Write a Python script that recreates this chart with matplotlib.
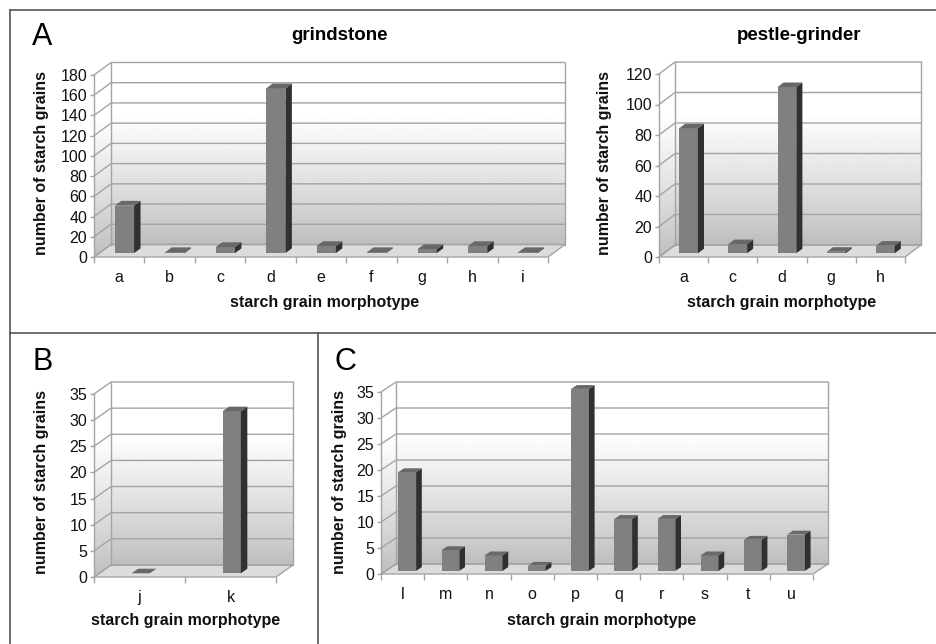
import numpy as np
import matplotlib
matplotlib.use('Agg')
import matplotlib.pyplot as plt
from matplotlib.patches import Polygon
from matplotlib.lines import Line2D

plt.rcParams['font.family'] = ['Liberation Sans', 'DejaVu Sans']

# data
grind_cats = ['a', 'b', 'c', 'd', 'e', 'f', 'g', 'h', 'i']
grind_vals = [47, 1, 6, 163, 7, 1, 4, 7, 1]
pestle_cats = ['a', 'c', 'd', 'g', 'h']
pestle_vals = [82, 6, 109, 1, 5]
b_cats = ['j', 'k']
b_vals = [0, 31]
c_cats = ['l', 'm', 'n', 'o', 'p', 'q', 'r', 's', 't', 'u']
c_vals = [19, 4, 3, 1, 35, 10, 10, 3, 6, 7]

W, H = 937, 644
fig = plt.figure(figsize=(W / 100, H / 100), dpi=100)
fig.patch.set_facecolor('white')

EDGE = '#a4a4a4'
FRONT = '#808080'
SIDE = '#303030'
TOP = '#686868'
FLOOR = '#dcdcdc'

# vertical gradient: grey at the bottom, white in the upper part
g = np.linspace(0, 1, 256)
grad = (0.74 + 0.26 * np.clip(g / 0.72, 0, 1) ** 0.85).reshape(-1, 1)


def panel(L, R, T, B, dx, dy, cats, vals, ymax, ystep, bw=0.38, dfront=0.31,
          ddepth=0.38, xs=0):
    n = len(cats)
    ax = fig.add_axes([L / W, 1 - B / H, (R - L) / W, (B - T) / H])
    x0, x1 = -0.5, n - 0.5
    ppx = (R - L) / n
    ox = dx / ppx
    oy = dy / ((B - T) / ymax)

    # back wall
    ax.imshow(grad, extent=(x0 + ox, x1 + ox, oy, ymax + oy), origin='lower',
              cmap='gray', vmin=0, vmax=1, aspect='auto', zorder=0,
              clip_on=False, interpolation='bilinear')
    # side wall
    side = Polygon([(x0, 0), (x0, ymax), (x0 + ox, ymax + oy), (x0 + ox, oy)],
                   closed=True, transform=ax.transData)
    im2 = ax.imshow(grad, extent=(x0, x0 + ox, 0, ymax + oy), origin='lower',
                    cmap='gray', vmin=0, vmax=1, aspect='auto', zorder=0,
                    interpolation='bilinear')
    im2.set_clip_path(side)
    im2.set_clip_box(None)
    # floor
    ax.add_patch(Polygon([(x0, 0), (x1, 0), (x1 + ox, oy), (x0 + ox, oy)], closed=True,
                         facecolor=FLOOR, edgecolor=EDGE, lw=1, zorder=1, clip_on=False))

    ticks = np.arange(0, ymax + 0.1, ystep)
    for t in ticks:
        ax.plot([x0, x0 + ox, x1 + ox], [t, t + oy, t + oy], color=EDGE, lw=1,
                zorder=2, clip_on=False)
    ax.plot([x0 + ox, x0 + ox], [oy, ymax + oy], color=EDGE, lw=1, zorder=2, clip_on=False)
    ax.plot([x1 + ox, x1 + ox], [oy, ymax + oy], color=EDGE, lw=1, zorder=2, clip_on=False)
    ax.plot([x0, x0], [0, ymax], color=EDGE, lw=1, zorder=2, clip_on=False)

    # bars
    pos = np.arange(n) + dfront * ox + xs / ppx
    base = dfront * oy
    ax.bar(pos, vals, width=bw, bottom=base, color=FRONT, zorder=3, clip_on=False)
    dox, doy = ddepth * ox, ddepth * oy
    for p, v in zip(pos, vals):
        xl, xr = p - bw / 2, p + bw / 2
        yt = base + v
        ax.add_patch(Polygon([(xr, base), (xr, yt), (xr + dox, yt + doy), (xr + dox, base + doy)],
                             closed=True, facecolor=SIDE, edgecolor='none', zorder=3, clip_on=False))
        ax.add_patch(Polygon([(xl, yt), (xr, yt), (xr + dox, yt + doy), (xl + dox, yt + doy)],
                             closed=True, facecolor=TOP, edgecolor='none', zorder=3, clip_on=False))

    ax.set_xlim(x0, x1)
    ax.set_ylim(0, ymax)
    for s in ax.spines.values():
        s.set_visible(False)
    ax.patch.set_visible(False)
    ax.set_yticks(ticks)
    ax.set_yticklabels([str(int(t)) for t in ticks])
    ax.set_xticks(np.arange(n + 1) - 0.5)
    ax.set_xticklabels([])
    ax.set_xticks(np.arange(n), minor=True)
    ax.set_xticklabels(cats, minor=True)
    ax.tick_params(axis='x', which='major', length=4, color=EDGE, width=1)
    ax.tick_params(axis='x', which='minor', length=0, pad=9.5, labelsize=11.5,
                   labelcolor='#111111')
    ax.tick_params(axis='y', length=3, color=EDGE, width=1, pad=2, labelsize=11.5,
                   labelcolor='#111111')
    return ax


panel(94, 548, 75, 257, 17, 12.5, grind_cats, grind_vals, 180, 20)
panel(659, 905, 74, 257, 16, 12, pestle_cats, pestle_vals, 120, 20)
panel(94, 276, 394, 577, 17, 12, b_cats, b_vals, 35, 5, bw=0.2, xs=-4)
panel(381, 813, 392, 574, 15, 10, c_cats, c_vals, 35, 5, bw=0.41)


def ftext(x, y, s, **kw):
    fig.text(x / W, 1 - y / H, s, **kw)


# panel letters
ftext(32, 45, 'A', fontsize=22, va='baseline', ha='left')
ftext(33, 370, 'B', fontsize=22, va='baseline', ha='left')
ftext(335, 370, 'C', fontsize=22, va='baseline', ha='left')

# titles
ftext(339, 35, 'grindstone', fontsize=13.5, fontweight='bold', ha='center', va='center')
ftext(799, 35, 'pestle-grinder', fontsize=13.5, fontweight='bold', ha='center', va='center')

# axis labels
lab = dict(fontsize=11.5, fontweight='bold', ha='center', va='center', color='#111111')
ftext(42, 163, 'number of starch grains', rotation=90, **lab)
ftext(605, 163, 'number of starch grains', rotation=90, **lab)
ftext(42, 482, 'number of starch grains', rotation=90, **lab)
ftext(340, 482, 'number of starch grains', rotation=90, **lab)
ftext(325, 302, 'starch grain morphotype', **lab)
ftext(782, 302, 'starch grain morphotype', **lab)
ftext(186, 621, 'starch grain morphotype', **lab)
ftext(602, 621, 'starch grain morphotype', **lab)

# frame lines
def fline(xs, ys):
    fig.add_artist(Line2D([x / W for x in xs], [1 - y / H for y in ys],
                          color='#555555', lw=1.2, transform=fig.transFigure))


fline([10, 937], [9.5, 9.5])
fline([10, 10], [9.5, 644])
fline([10, 937], [333, 333])
fline([318, 318], [333, 644])

fig.savefig('out.png', dpi=100)
